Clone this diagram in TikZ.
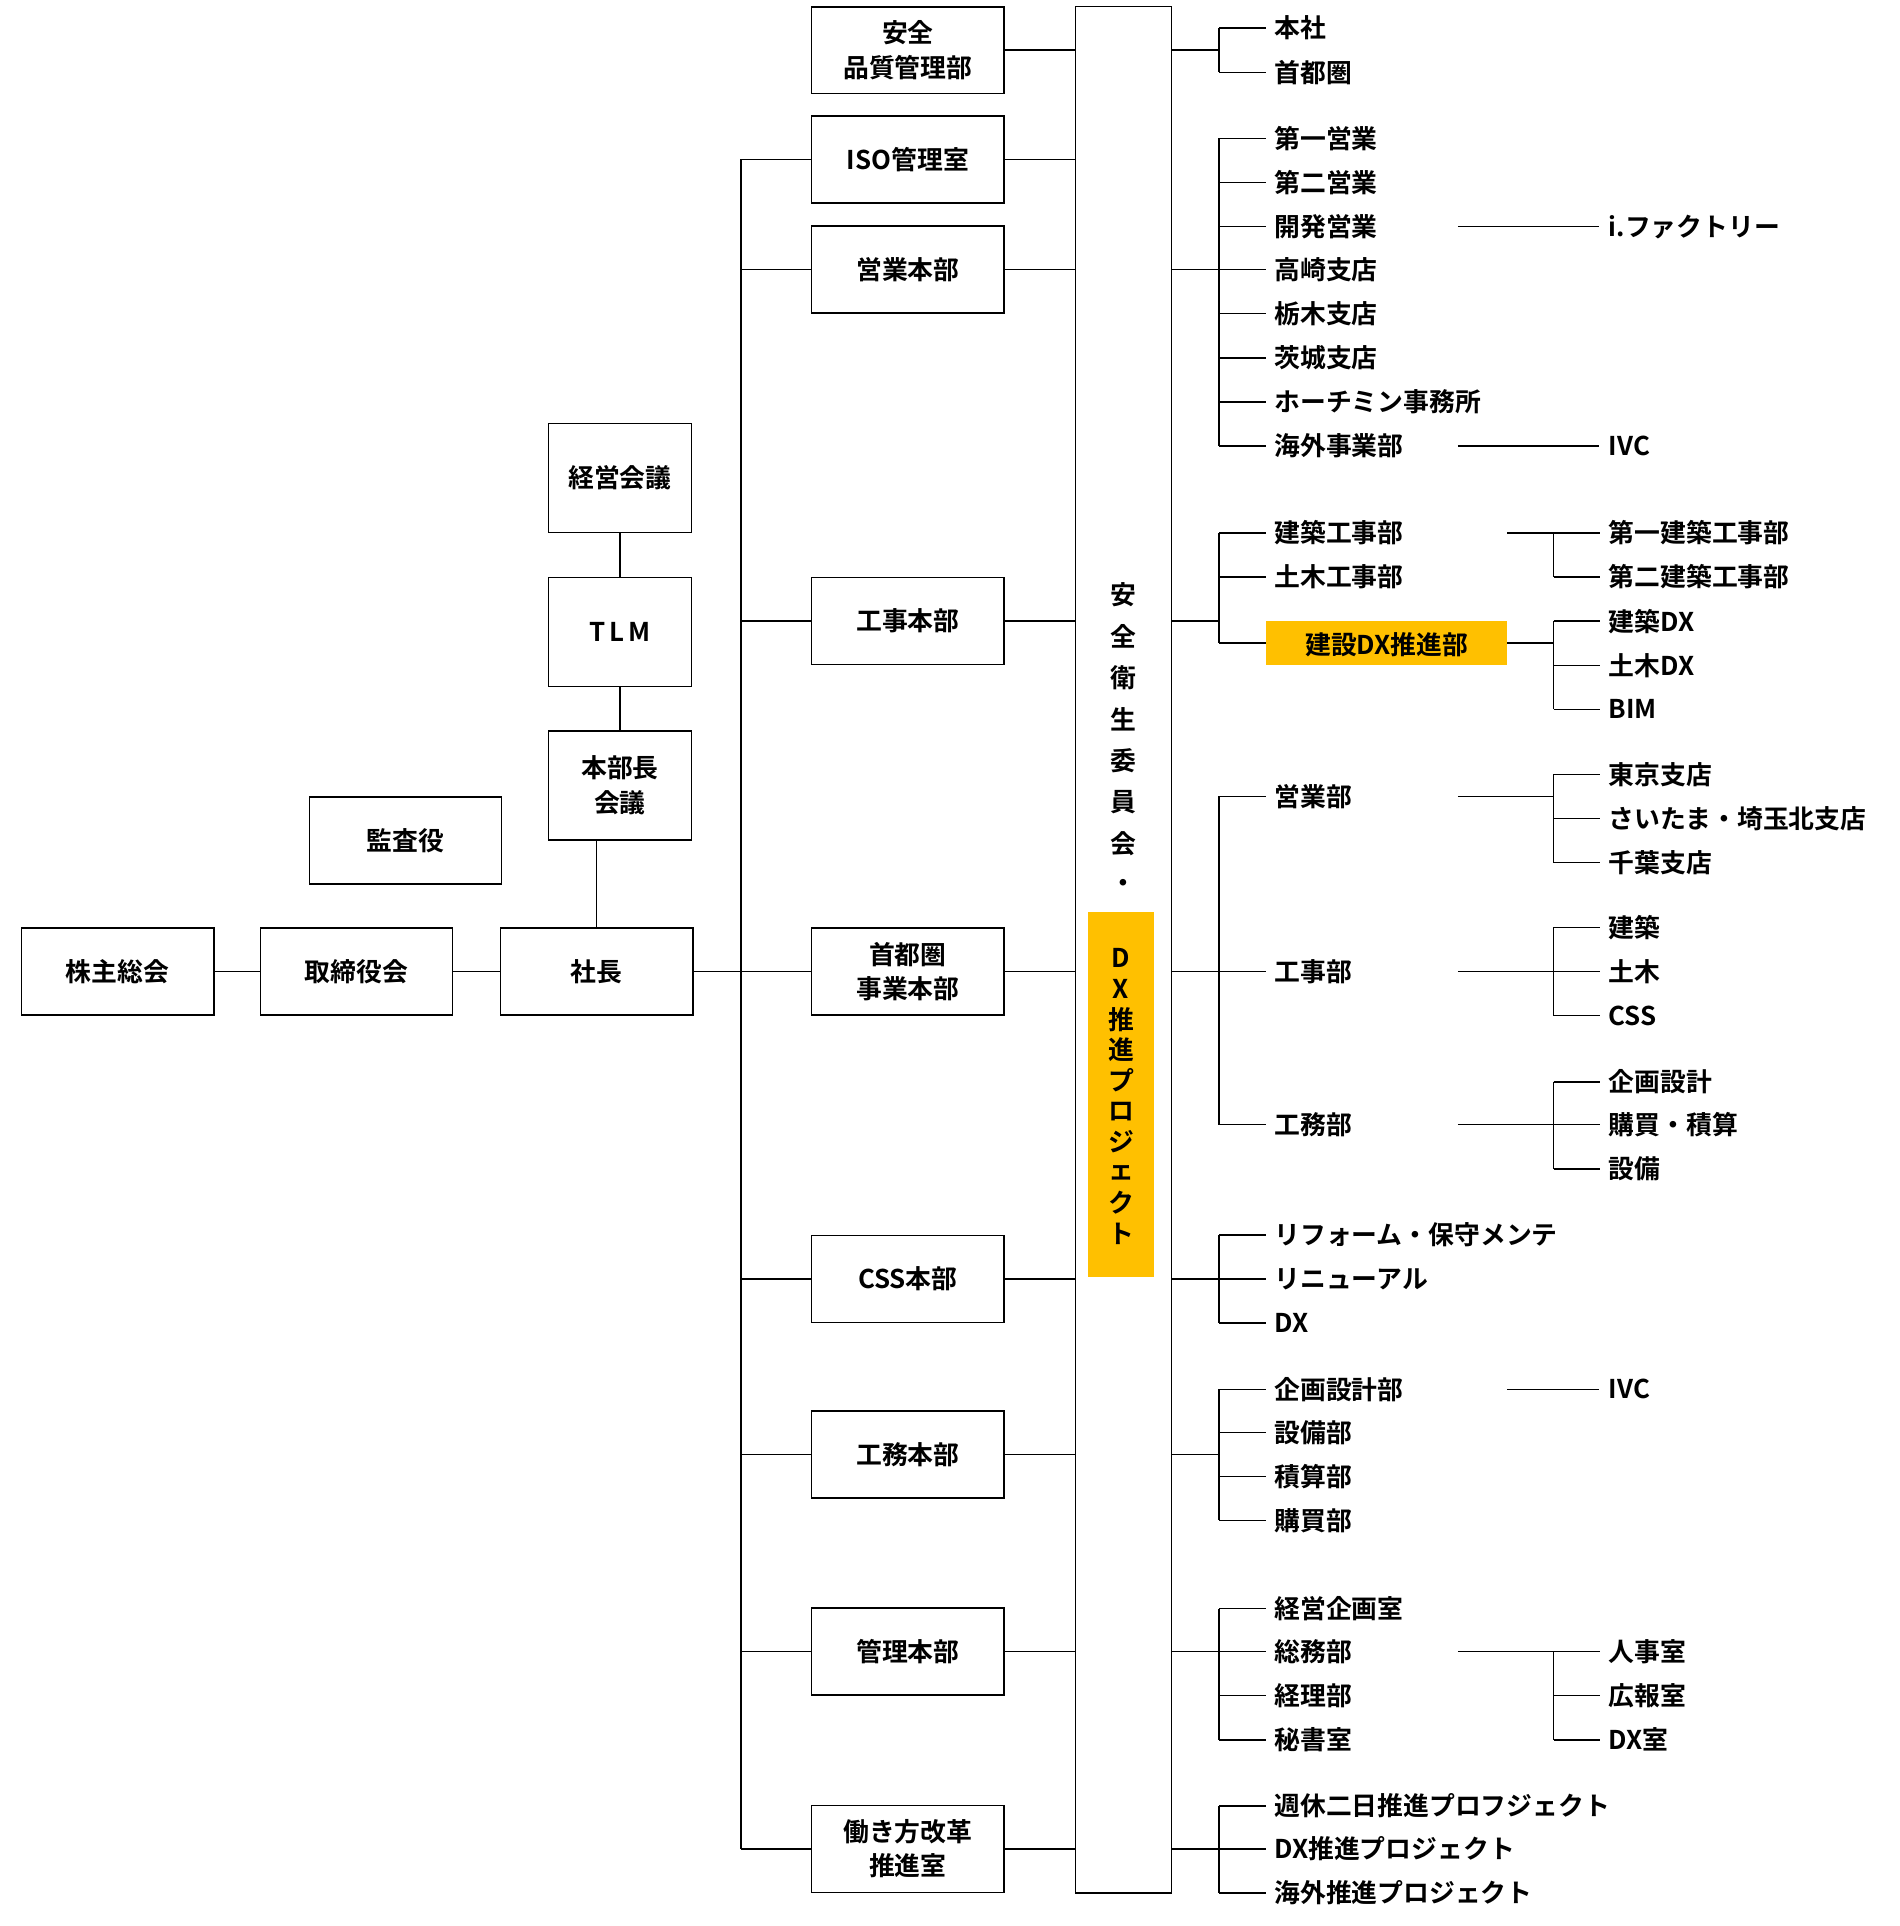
\documentclass[tikz,border=0pt]{standalone}
\usepackage{fontspec}
\setmainfont{Noto Sans CJK JP Bold}
\usetikzlibrary{positioning}
\definecolor{dxyellow}{HTML}{FFC000}
\tikzset{
  x=0.02cm, y=-0.02cm,
  every node/.style={font=\fontsize{12}{14}\selectfont},
  line/.style={line width=0.7pt},
  box/.style={draw, line width=0.7pt, minimum width=3.14cm, minimum height=1.42cm, align=center, inner sep=1pt},
  nbox/.style={box, minimum width=2.34cm, minimum height=1.78cm},
  item/.style={anchor=west, inner sep=1pt},
  hl/.style={item, fill=dxyellow, minimum width=3.94cm, minimum height=0.72cm, text depth=0pt}
}
\begin{document}
\begin{tikzpicture}
\useasboundingbox (0,0) rectangle (1550,1572);
% left chain
\node[box] (kabu) at (96,793) {株主総会};
\node[box] (tori) at (291,793) {取締役会};
\node[box] (sha) at (487,793) {社長};
\node[box] (kan) at (331,686) {監査役};
\node[nbox] (kei) at (506,390) {経営会議};
\node[nbox] (tlm) at (506,516) {T\,L\,M};
\node[nbox] (hon) at (506,641) {本部長\\[2pt]会議};
\draw[line] (kabu) -- (tori);
\draw[line] (tori) -- (sha);
\draw[line] (kei) -- (tlm);
\draw[line] (tlm) -- (hon);
\draw[line] (hon.south -| sha.north) -- (sha.north);
% committee
\node[draw, line width=0.7pt, minimum width=1.56cm, minimum height=30.8cm] (iin) at (917,775) {};
\foreach \c [count=\i] in {安,全,衛,生,委,員,会,・}
  \node (c\i) at (917,451+34*\i) {\c};
\node[fill=dxyellow, minimum width=1.08cm, minimum height=5.96cm] (dxp) at (915,893) {};
\foreach \c [count=\i] in {D,X,推,進,プ,ロ,ジ,ェ,ク,ト}
  \node (d\i) at (915,757+25*\i) {\c};
% divisions
\node[box] (anz) at (741,41) {安全\\[2pt]品質管理部};
\draw[line] (anz.east) -- (anz.east -| iin.west);
\coordinate (trunk) at (605,793);
\draw[line] (sha.east) -- (trunk);
\foreach \y/\t/\n in {130/ISO管理室/iso, 220/営業本部/eig, 507/工事本部/koj, 793/首都圏\\[2pt]事業本部/shu, 1044/CSS本部/css, 1187/工務本部/kom, 1348/管理本部/kan2, 1509/働き方改革\\[2pt]推進室/hat}{
  \node[box] (\n) at (741,\y) {\t};
  \draw[line] (605,\y) -- (\n.west);
  \draw[line] (\n.east) -- (\n.east -| iin.west);
}
\draw[line] (605,130) -- (605,1509);
% right groups
\foreach \g/\a/\b in {41/23/59, 220/113/364, 507/435/525, 793/650/918, 1044/1008/1080, 1187/1134/1241, 1348/1313/1420, 1509/1474/1545}{
  \draw[line] (iin.east |- 0,\g) -- (995,\g);
  \draw[line] (995,\a) -- (995,\b);
}
\foreach \y/\t/\n in {23/本社/r1, 59/首都圏/r2, 113/第一営業/r3, 149/第二営業/r4, 185/開発営業/r5, 220/高崎支店/r6, 256/栃木支店/r7, 292/茨城支店/r8, 328/ホーチミン事務所/r9, 364/海外事業部/r10, 435/建築工事部/r11, 471/土木工事部/r12, 650/営業部/r14, 793/工事部/r15, 918/工務部/r16, 1008/リフォーム・保守メンテ/r17, 1044/リニューアル/r18, 1080/DX/r19, 1134/企画設計部/r20, 1169/設備部/r21, 1205/積算部/r22, 1241/購買部/r23, 1313/経営企画室/r24, 1348/総務部/r25, 1384/経理部/r26, 1420/秘書室/r27, 1474/週休二日推進プロフジェクト/r28, 1509/DX推進プロジェクト/r29, 1545/海外推進プロジェクト/r30}{
  \node[item] (\n) at (1038,\y) {\t};
  \draw[line] (995,\y) -- (1033,\y);
}
\node[hl, inner xsep=5pt] (r13) at (1033,525) {建設DX推進部};
\draw[line] (995,525) -- (r13.west);
% direct links
\foreach \y/\t/\x/\n in {185/i.ファクトリー/1190/s1, 364/IVC/1190/s2, 1134/IVC/1230/s3}{
  \node[item] (\n) at (1311,\y) {\t};
  \draw[line] (\x,\y) -- (1305,\y);
}
% sub groups
\foreach \x/\g/\a/\b in {1230/435/435/471, 1230/525/507/579, 1190/650/632/704, 1190/793/757/829, 1190/918/883/954, 1190/1348/1348/1420}{
  \draw[line] (\x,\g) -- (1268,\g);
  \draw[line] (1268,\a) -- (1268,\b);
}
\foreach \y/\t/\n in {435/第一建築工事部/u1, 471/第二建築工事部/u2, 507/建築DX/u3, 543/土木DX/u4, 579/BIM/u5, 632/東京支店/u6, 668/さいたま・埼玉北支店/u7, 704/千葉支店/u8, 757/建築/u9, 793/土木/u10, 829/CSS/u11, 883/企画設計/u12, 918/購買・積算/u13, 954/設備/u14, 1348/人事室/u15, 1384/広報室/u16, 1420/DX室/u17}{
  \node[item] (\n) at (1311,\y) {\t};
  \draw[line] (1268,\y) -- (1306,\y);
}
\end{tikzpicture}
\end{document}
